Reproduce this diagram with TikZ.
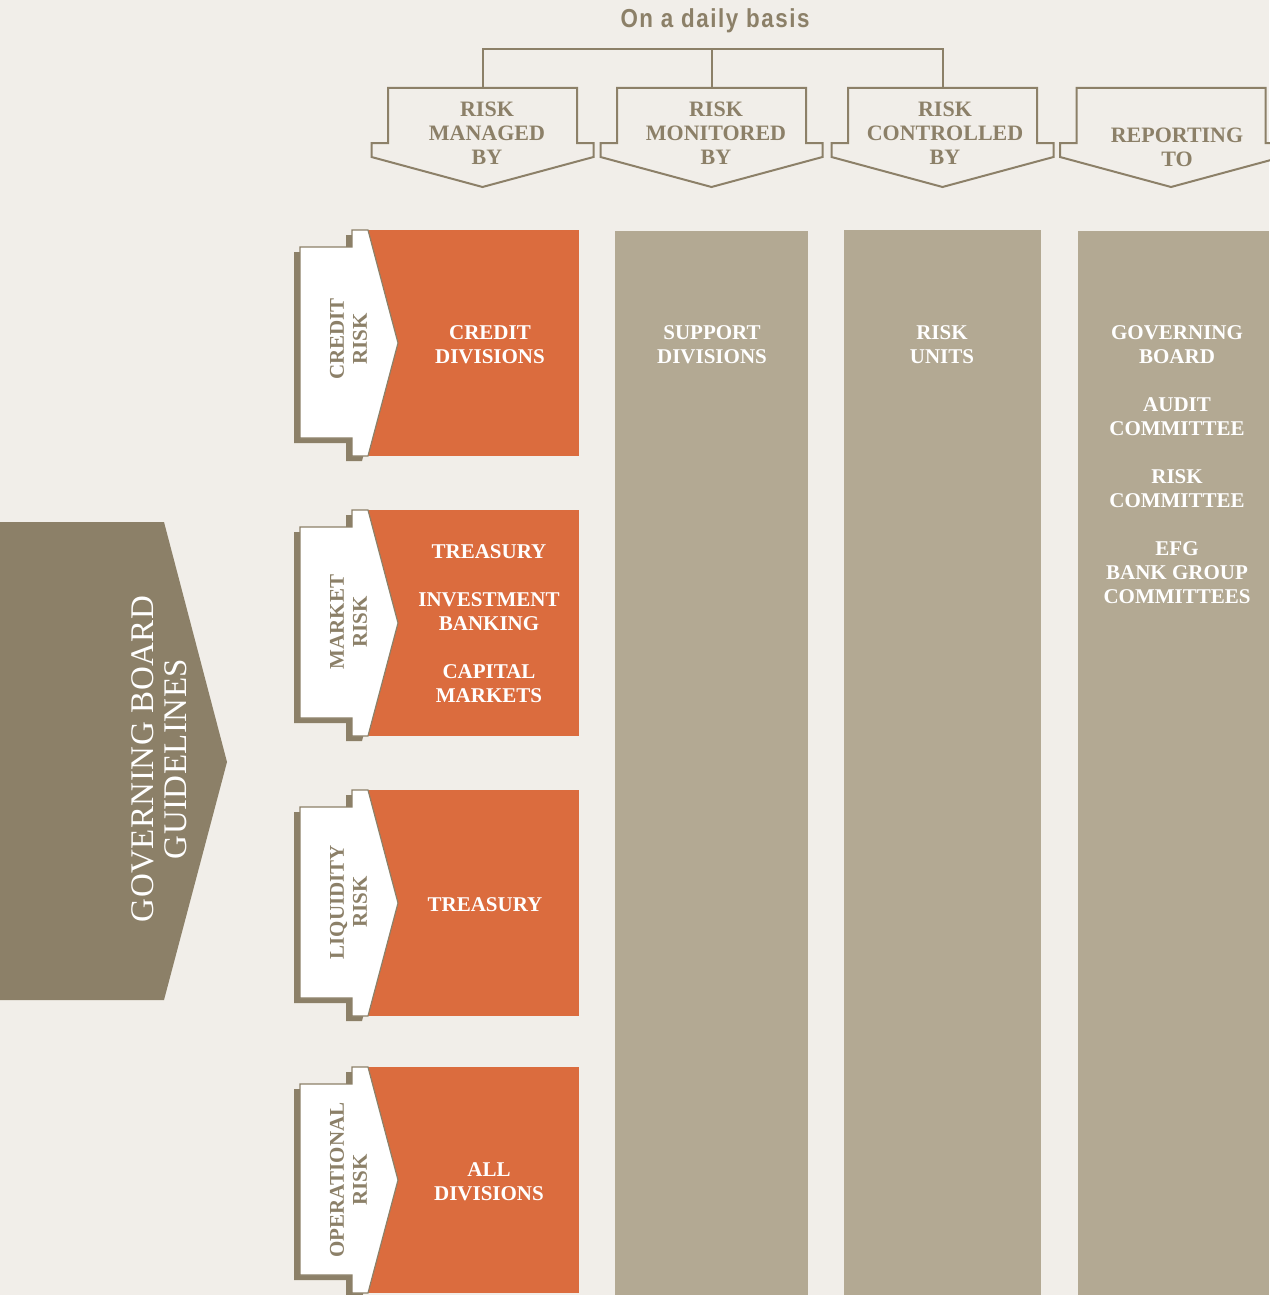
\documentclass[tikz,border=0pt]{standalone}
\usepackage{fontspec}
\setmainfont{Liberation Serif}
\newfontfamily\hdrsans[LetterSpace=6,FakeStretch=0.86]{Liberation Sans Bold}
\newfontfamily\gbfont[LetterSpace=1.5]{Liberation Serif}
\definecolor{bg}{HTML}{F1EEE9}
\definecolor{taupe}{HTML}{8C8068}
\definecolor{greycol}{HTML}{B3A993}
\definecolor{orng}{HTML}{DB6C3E}
\tikzset{
  hdrline/.style={draw=taupe, line width=2pt, line join=miter},
  hdrtxt/.style={font=\fontsize{22}{24}\selectfont\bfseries, text=taupe, align=center, inner sep=0pt},
  bodytxt/.style={font=\fontsize{21}{24}\selectfont\bfseries, text=white, align=center, inner sep=0pt},
  tabtxt/.style={font=\fontsize{21}{23}\selectfont\bfseries, text=taupe, align=center, inner sep=0pt, rotate=90},
  pics/hdrbox/.style={code={
    \draw[hdrline, fill=bg] (-94.5,88) -- (94.5,88) -- (94.5,143) -- (111,143) -- (111,157) -- (0,187)
      -- (-111,157) -- (-111,143) -- (-94.5,143) -- cycle;}},
  pics/tab/.style={code={
    \fill[orng] (368,0) rectangle (579,226);
    \fill[taupe, shift={(-6,5)}] (352,0) -- (368,0) -- (398,113) -- (368,226) -- (352,226) -- (352,208)
      -- (300,208) -- (300,17) -- (352,17) -- cycle;
    \draw[fill=white, draw=taupe, line width=1.2pt] (352,0) -- (368,0) -- (398,113) -- (368,226) -- (352,226) -- (352,208)
      -- (300,208) -- (300,17) -- (352,17) -- cycle;}}
}
\begin{document}
\begin{tikzpicture}[x=1pt,y=-1pt]
\fill[bg] (0,0) rectangle (1269,1295);
\useasboundingbox (0,0) rectangle (1269,1295);

% header
\node[font=\hdrsans\fontsize{26}{26}\selectfont, text=taupe, inner sep=0pt] (daily) at (715,21) {On a daily basis};
\pic at (482.5,0) {hdrbox};
\pic at (711.5,0) {hdrbox};
\pic at (942.5,0) {hdrbox};
\pic at (1171,0) {hdrbox};
\coordinate (h1) at (482.5,88);
\coordinate (h2) at (711.5,88);
\coordinate (h3) at (942.5,88);
\coordinate (bar) at (482.5,49);
\draw[hdrline] (h1) -- (bar) -| (h3);
\draw[hdrline] (h2) -- (h2 |- bar);
\node[hdrtxt] (hm) at (487,133.5) {RISK\\MANAGED\\BY};
\node[hdrtxt] (hmo) at (716,133.5) {RISK\\MONITORED\\BY};
\node[hdrtxt] (hc) at (945,133.5) {RISK\\CONTROLLED\\BY};
\node[hdrtxt] (hr) at (1177,147) {REPORTING\\TO};

% grey columns
\fill[greycol] (615,231) rectangle (808,1295);
\fill[greycol] (844,230) rectangle (1041,1295);
\fill[greycol] (1078,231) rectangle (1269,1295);
\node[bodytxt] (sup) at (712,345) {SUPPORT\\DIVISIONS};
\node[bodytxt] (ru) at (942,345) {RISK\\UNITS};
\node[bodytxt] (gb) at (1177,345) {GOVERNING\\BOARD};
\node[bodytxt] (ac) at (1177,417) {AUDIT\\COMMITTEE};
\node[bodytxt] (rc) at (1177,489) {RISK\\COMMITTEE};
\node[bodytxt] (efg) at (1177,573) {EFG\\BANK GROUP\\COMMITTEES};

% rows
\pic at (0,230) {tab};
\pic at (0,510) {tab};
\pic at (0,790) {tab};
\pic at (0,1067) {tab};
\node[tabtxt] (t1) at (348.5,339) {CREDIT\\RISK};
\node[tabtxt] (t2) at (348.5,622) {MARKET\\RISK};
\node[tabtxt] (t3) at (348.5,902) {LIQUIDITY\\RISK};
\node[tabtxt] (t4) at (348.5,1180) {OPERATIONAL\\RISK};
\node[bodytxt] (o1) at (490,345) {CREDIT\\DIVISIONS};
\node[bodytxt] (o2a) at (489,552) {TREASURY};
\node[bodytxt] (o2b) at (489,612) {INVESTMENT\\BANKING};
\node[bodytxt] (o2c) at (489,684) {CAPITAL\\MARKETS};
\node[bodytxt] (o3) at (485,905) {TREASURY};
\node[bodytxt] (o4) at (489,1182) {ALL\\DIVISIONS};

% governing board arrow
\fill[taupe] (0,522) -- (164,522) -- (227,762) -- (164,1000) -- (0,1000) -- cycle;
\node[font=\gbfont\fontsize{33}{33}\selectfont, text=white, align=center, inner sep=0pt, rotate=90] (gbg) at (159.5,759) {GOVERNING BOARD\\GUIDELINES};
\end{tikzpicture}
\end{document}
